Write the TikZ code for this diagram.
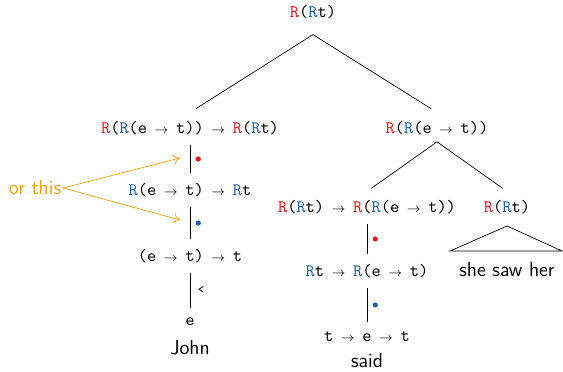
\documentclass[tikz,border=0pt]{standalone}
\usetikzlibrary{arrows.meta}
\definecolor{rred}{HTML}{E8191C}
\definecolor{rblue}{HTML}{2163AA}
\definecolor{orth}{HTML}{F0A30A}
\newcommand{\Rr}{\textcolor{rred}{R}}
\newcommand{\Rb}{\textcolor{rblue}{R}}
\newcommand{\tto}{\makebox[0.6em]{$\scriptstyle\to$}}

\begin{document}
\begin{tikzpicture}[
  x=0.02cm,y=-0.02cm,
  typ/.style={font=\ttfamily,inner sep=1pt,outer sep=4pt},
  wrd/.style={font=\sffamily\fontsize{11.5}{13}\selectfont,inner sep=1pt},
  br/.style={draw=black,thin},
  un/.style={draw=black,thin,shorten <=1pt,shorten >=1pt},
  dotr/.style={circle,fill=rred,inner sep=0pt,minimum size=3pt},
  dotb/.style={circle,fill=rblue,inner sep=0pt,minimum size=3pt},
  orarr/.style={-{To[length=4pt,width=6pt]},draw=orth,thin},
]
\useasboundingbox (0,0) rectangle (563,371);

% top of the tree
\node[typ] (top) at (313,12) {\Rr(\Rb t)};
\node[typ] (lft) at (190,128) {\Rr(\Rb(e \tto{} t)) \tto{} \Rr(\Rb t)};
\node[typ] (rgt) at (437,128) {\Rr(\Rb(e \tto{} t))};
\draw[br,shorten >=4pt] ([yshift=-4pt]top.south) -- (lft.north);
\draw[br,shorten >=4pt] ([yshift=-4pt]top.south) -- (rgt.north);

% left column: John
\node[typ] (l2) at (190,190) {\Rb(e \tto{} t) \tto{} \Rb t};
\node[typ] (l3) at (190,256) {(e \tto{} t) \tto{} t};
\node[typ] (l4) at (190,322) {e};
\node[wrd] (john) at (190,348) {John};
\draw[un] (lft) -- node[right=3pt,dotr]{} (l2);
\draw[un] (l2) -- node[right=3pt,dotb]{} (l3);
\draw[un] (l3) -- node[right=1pt,font=\ttfamily\scriptsize]{<} (l4);

% right branch
\node[typ] (r1) at (367,207) {\Rr(\Rb t) \tto{} \Rr(\Rb(e \tto{} t))};
\node[typ] (r2) at (507,207) {\Rr(\Rb t)};
\draw[br,shorten >=3pt] ([yshift=1pt]rgt.south) -- (r1.north);
\draw[br,shorten >=3pt] ([yshift=1pt]rgt.south) -- (r2.north);

% said
\node[typ] (r3) at (367,271) {\Rb t \tto{} \Rb(e \tto{} t)};
\node[typ] (r4) at (367,337) {t \tto{} e \tto{} t};
\node[wrd] (said) at (367,361) {said};
\draw[un] (r1) -- node[right=3pt,dotr]{} (r3);
\draw[un] (r3) -- node[right=3pt,dotb]{} (r4);

% she saw her
\node[wrd] (ssh) at (507,270) {she saw her};
\coordinate (tip) at (507,226);
\draw[br] (tip) -- (562,251) -- (450,251) -- cycle;

% or this
\node[wrd,text=orth] (orth) at (35,188) {or this};
\coordinate (a1) at (180,158);
\coordinate (a2) at (180,220);
\draw[orarr] (orth.east) -- (a1);
\draw[orarr] (orth.east) -- (a2);
\end{tikzpicture}
\end{document}
